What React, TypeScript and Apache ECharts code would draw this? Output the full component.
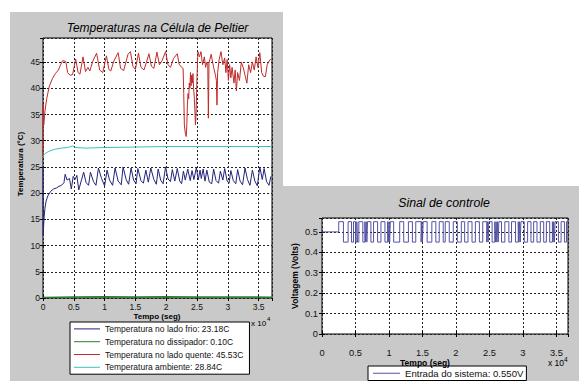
import React, { useEffect, useRef } from "react";
import * as echarts from "echarts";

// ---- Data (time in seconds, value) ----
const coldSide: [number, number][] = [
  [0, 25], [40, 12], [150, 15], [300, 17], [500, 18.5], [800, 19.5], [1200, 20.3], [1700, 20.8],
  [2200, 21], [2600, 21.3], [3000, 21.5], [3400, 22], [3600, 23.6], [3900, 22.5], [4300, 22.8],
  [4600, 20.8], [4900, 23.2], [5200, 22.6], [5500, 23.4], [5800, 20.6], [6200, 22.3], [6600, 24],
  [7000, 22], [7400, 21.5], [7700, 24], [8200, 22.2], [8600, 21.5], [9000, 24.8], [9500, 22.8],
  [10000, 21.4], [10400, 24.4], [10800, 22.5], [11300, 21.5], [11700, 24.8], [12200, 22.3],
  [12700, 21.6], [13000, 25], [13500, 22.6], [13900, 21.7], [14300, 24.8], [14700, 22.5],
  [15100, 21.8], [15400, 24.7], [15900, 22.4], [16300, 21.9], [16700, 24.4], [17100, 22.1],
  [17500, 24.8], [18000, 22.6], [18400, 21.7], [18700, 24.6], [19100, 22.5], [19500, 21.8],
  [19900, 25], [20300, 22.7], [20700, 22.2], [21000, 24.5], [21400, 22.3], [21800, 24.7],
  [22200, 22.3], [22500, 21.8], [22800, 24.2], [23100, 22.5], [23500, 24.6], [23900, 22.4],
  [24200, 24.3], [24500, 22.6], [24900, 24.9], [25200, 22.5], [25500, 24.4], [25700, 22.8],
  [26000, 24.6], [26300, 22.3], [26600, 24.4], [27000, 22.1], [27400, 21.8], [27700, 24.6],
  [28100, 22.4], [28500, 21.9], [28800, 24.2], [29200, 22.5], [29500, 24.7], [29900, 22.3],
  [30200, 21.9], [30500, 24.3], [30900, 22.4], [31300, 21.8], [31600, 24.5], [32000, 22.3],
  [32400, 21.6], [32800, 24.8], [33200, 22.6], [33600, 21.5], [34000, 24.4], [34400, 22.3],
  [34800, 21.4], [35200, 25], [35600, 22.6], [35900, 24.7], [36300, 22.2], [36700, 21.5],
  [37000, 23.2],
];

const heatSink: [number, number][] = [
  [0, 0.1], [5000, 0.2], [10000, 0.25], [15000, 0.2], [20000, 0.25], [25000, 0.2],
  [30000, 0.2], [37180, 0.15],
];

const hotSide: [number, number][] = [
  [0, 27], [40, 37], [120, 33], [300, 35.5], [600, 38], [1000, 40.3], [1500, 41.8], [2000, 42.8],
  [2500, 43.5], [2900, 44.6], [3200, 45.3], [3700, 45.1], [4000, 43], [4400, 42.5], [4800, 42.6],
  [5300, 45.6], [5700, 43], [6000, 42.7], [6500, 46], [6900, 43.2], [7300, 44], [7600, 43.3],
  [8100, 45.2], [8700, 46.7], [9200, 43.5], [9700, 43], [10300, 46.2], [10700, 43.6],
  [11000, 43.3], [11500, 45.2], [12200, 46.8], [12600, 43.8], [13100, 43.4], [13800, 46.5],
  [14200, 47], [14600, 44.2], [15000, 43.6], [15500, 46.7], [15900, 44], [16400, 43.5],
  [16800, 45], [17200, 46.6], [17600, 44.2], [18000, 43.8], [18500, 46.9], [18900, 44.5],
  [19300, 45.2], [19900, 47], [20300, 44.5], [20700, 44], [21200, 45.7], [21800, 46.6],
  [22100, 44.6], [22500, 44], [22750, 43.8], [22850, 39], [22950, 33], [23100, 31.5],
  [23250, 30.8], [23350, 33], [23450, 37], [23550, 39], [23650, 38], [23750, 41], [23850, 40],
  [23950, 43], [24050, 40.5], [24150, 42.5], [24250, 41], [24350, 42.8], [24450, 40],
  [24550, 38.5], [24650, 36], [24750, 33], [24850, 35], [25000, 42], [25150, 47], [25400, 46],
  [25650, 47], [25900, 44.5], [26200, 46], [26400, 44], [26600, 45], [26750, 44.8],
  [26850, 34.3], [26950, 44.8], [27300, 46.5], [27700, 44], [28000, 42.5], [28150, 41.5],
  [28250, 36.8], [28350, 43], [28600, 45.5], [28900, 47], [29200, 44.5], [29500, 45.8],
  [29700, 43], [29900, 45.5], [30100, 41.5], [30300, 44.5], [30500, 42], [30700, 44],
  [31000, 41], [31200, 43.5], [31400, 39.5], [31600, 43], [31900, 41.5], [32200, 45],
  [32500, 44], [32800, 42.5], [33100, 41], [33400, 44.5], [33700, 43], [34000, 45],
  [34300, 43.5], [34600, 46], [34900, 44], [35200, 46.8], [35500, 43], [35800, 42.3],
  [36100, 42.2], [36400, 44.5], [36700, 45.2], [37000, 45.6],
];

const ambient: [number, number][] = [
  [0, 27], [200, 27.4], [500, 27.7], [1000, 28], [2000, 28.4], [3000, 28.6], [4000, 28.7],
  [4800, 29], [5200, 28.7], [7000, 28.6], [10000, 28.7], [15000, 28.8], [20000, 28.9],
  [25000, 28.9], [30000, 28.9], [37180, 28.9],
];

const signalTimes: number[] = [
  0, 2500, 3200, 3900, 4400, 4700, 5000, 5200, 5300, 5500, 6100, 6400, 6500, 6600, 6700, 6800,
  7300, 7700, 8300, 8800, 9400, 9800, 9900, 10000, 10100, 10200, 10700, 11600, 12200, 12900,
  13500, 14000, 14800, 14900, 15000, 15100, 15700, 16400, 17000, 17500, 18100, 18400, 19000,
  19600, 20200, 20800, 21300, 21800, 22400, 22900, 23500, 24000, 24600, 24700, 24800, 24900,
  25400, 25800, 25900, 26000, 26100, 26200, 26300, 26400, 26800, 27300, 27900, 28300, 28900,
  29300, 29400, 29500, 29600, 29700, 30200, 30700, 31200, 31600, 32100, 32600, 33100, 33500,
  34000, 34400, 34500, 34600, 34700, 34800, 35300, 35700, 36200, 36500, 36730,
];
const signalValues: number[] = [
  0.5, 0.55, 0.45, 0.55, 0.45, 0.55, 0.45, 0.55, 0.45, 0.55, 0.45, 0.55, 0.45, 0.55, 0.45, 0.55,
  0.45, 0.55, 0.45, 0.55, 0.45, 0.55, 0.45, 0.55, 0.45, 0.55, 0.45, 0.55, 0.45, 0.55,
  0.45, 0.55, 0.45, 0.55, 0.45, 0.55, 0.45, 0.55, 0.45, 0.55, 0.45, 0.55, 0.45,
  0.55, 0.45, 0.55, 0.45, 0.55, 0.45, 0.55, 0.45, 0.55, 0.45, 0.55, 0.45, 0.55,
  0.45, 0.55, 0.45, 0.55, 0.45, 0.55, 0.45, 0.55, 0.45, 0.55, 0.45, 0.55, 0.45,
  0.55, 0.45, 0.55, 0.45, 0.55, 0.45, 0.55, 0.45, 0.55, 0.45, 0.55, 0.45, 0.55,
  0.45, 0.55, 0.45, 0.55, 0.45, 0.55, 0.45, 0.55, 0.45, 0.55, 0.55,
];

const legendTemps = [
  "Temperatura no lado frio: 23.18C",
  "Temperatura no dissipador: 0.10C",
  "Temperatura no lado quente: 45.53C",
  "Temperatura ambiente: 28.84C",
];
const legendSignal = "Entrada do sistema: 0.550V";

const FONT = "'Liberation Sans', Arial, Helvetica, sans-serif";

export default function App() {
  const ref = useRef<HTMLDivElement>(null);
  useEffect(() => {
    if (!ref.current) return;
    const chart = echarts.init(ref.current, undefined, { renderer: "svg" });

    const signalData = signalTimes.map((t, i) => [t, signalValues[i]]);

    const gridLine = { show: true, lineStyle: { color: "#222", type: [2, 2] as any, width: 1 } };
    const tick = { show: true, inside: true, length: 3, lineStyle: { color: "#000" } };
    const lbl = { color: "#111", fontSize: 8.5, fontFamily: FONT };
    const lblR = { color: "#111", fontSize: 9.3, fontFamily: FONT };

    const xFmt = (v: number) => (v % 5000 === 0 ? String(v / 10000) : "");
    const yFmtL = (v: number) => (v % 5 === 0 ? String(v) : "");
    const yFmtR = (v: number) => {
      const k = Math.round(v * 10);
      if (Math.abs(v * 10 - k) > 1e-6 || k > 5) return "";
      return k === 0 ? "0" : (k / 10).toFixed(1);
    };

    const txt = (x: number, y: number, text: string, extra: any = {}, rot = 0) => ({
      type: "text",
      x,
      y,
      rotation: rot,
      z: 10,
      style: {
        text,
        fill: "#000",
        fontFamily: FONT,
        fontSize: 8.5,
        align: "center",
        verticalAlign: "middle",
        ...extra,
      },
    });

    const option: any = {
      animation: false,
      backgroundColor: "#fff",
      graphic: [
        { type: "rect", z: -10, shape: { x: 10, y: 12, width: 273, height: 369 }, style: { fill: "#c9c9c9" } },
        { type: "rect", z: -10, shape: { x: 283, y: 186, width: 296, height: 195 }, style: { fill: "#c9c9c9" } },
        txt(157.5, 28, "Temperaturas na Célula de Peltier", { fontSize: 12, fontStyle: "italic" }),
        txt(157, 316, "Tempo (seg)", { fontSize: 8, fontWeight: "bold" }),
        txt(20, 164, "Temperatura (°C)", { fontSize: 8, fontWeight: "bold" }, Math.PI / 2),
        txt(251, 323, "x 10", { align: "left", fontSize: 8 }),
        txt(267, 319, "4", { align: "left", fontSize: 6 }),
        txt(444, 203, "Sinal de controle", { fontSize: 12.3, fontStyle: "italic" }),
        txt(425, 363, "Tempo (seg)", { fontSize: 8.5, fontWeight: "bold" }),
        txt(295, 276, "Voltagem (Volts)", { fontSize: 8.5, fontWeight: "bold" }, Math.PI / 2),
        txt(548, 363, "x 10", { align: "left", fontSize: 8.5 }),
        txt(564, 359, "4", { align: "left", fontSize: 6.5 }),
      ],
      grid: [
        { left: 43, top: 38, width: 229, height: 260, show: true, backgroundColor: "#fff", borderColor: "#000", borderWidth: 1 },
        { left: 322, top: 218, width: 246, height: 116, show: true, backgroundColor: "#fff", borderColor: "#000", borderWidth: 1 },
      ],
      xAxis: [
        {
          type: "value", gridIndex: 0, min: 0, max: 37180, interval: 5000,
          axisLine: { show: false }, axisTick: tick, splitLine: gridLine,
          axisLabel: { ...lbl, margin: 4, formatter: xFmt, showMaxLabel: false },
        },
        {
          type: "value", gridIndex: 0, position: "top", min: 0, max: 37180, interval: 5000,
          axisLine: { show: false }, axisTick: tick, splitLine: { show: false }, axisLabel: { show: false },
        },
        {
          type: "value", gridIndex: 1, min: 0, max: 36730, interval: 5000,
          axisLine: { show: false }, axisTick: tick, splitLine: gridLine,
          axisLabel: { ...lblR, margin: 14, formatter: xFmt, showMaxLabel: false },
        },
        {
          type: "value", gridIndex: 1, position: "top", min: 0, max: 36730, interval: 5000,
          axisLine: { show: false }, axisTick: tick, splitLine: { show: false }, axisLabel: { show: false },
        },
      ],
      yAxis: [
        {
          type: "value", gridIndex: 0, min: 0, max: 49.6, interval: 5,
          axisLine: { show: false }, axisTick: tick, splitLine: gridLine,
          axisLabel: { ...lbl, margin: 3, formatter: yFmtL, showMaxLabel: false },
        },
        {
          type: "value", gridIndex: 0, position: "right", min: 0, max: 49.6, interval: 5,
          axisLine: { show: false }, axisTick: tick, splitLine: { show: false }, axisLabel: { show: false },
        },
        {
          type: "value", gridIndex: 1, min: 0, max: 0.568, interval: 0.1,
          axisLine: { show: false }, axisTick: tick, splitLine: gridLine,
          axisLabel: { ...lblR, margin: 4, formatter: yFmtR, showMaxLabel: false },
        },
        {
          type: "value", gridIndex: 1, position: "right", min: 0, max: 0.568, interval: 0.1,
          axisLine: { show: false }, axisTick: tick, splitLine: { show: false }, axisLabel: { show: false },
        },
      ],
      legend: [
        {
          data: legendTemps,
          orient: "vertical",
          left: 70,
          top: 322,
          icon: "rect",
          itemWidth: 26,
          itemHeight: 1,
          itemGap: 3,
          padding: [2, 6, 2, 4],
          backgroundColor: "#fff",
          borderColor: "#000",
          borderWidth: 1,
          borderRadius: 0,
          selectedMode: false,
          textStyle: { fontSize: 8.5, fontFamily: FONT, color: "#111", lineHeight: 9.8 },
        },
        {
          data: [legendSignal],
          orient: "vertical",
          left: 368,
          top: 366,
          icon: "rect",
          itemWidth: 27,
          itemHeight: 1,
          padding: [2, 3, 2, 5],
          backgroundColor: "#fff",
          borderColor: "#000",
          borderWidth: 1,
          borderRadius: 0,
          selectedMode: false,
          textStyle: { fontSize: 9.6, fontFamily: FONT, color: "#111", lineHeight: 10.5 },
        },
      ],
      series: [
        { name: legendTemps[0], type: "line", xAxisIndex: 0, yAxisIndex: 0, data: coldSide, showSymbol: false, symbol: "none", color: "#23237a", lineStyle: { width: 1 } },
        { name: legendTemps[1], type: "line", xAxisIndex: 0, yAxisIndex: 0, data: heatSink, showSymbol: false, symbol: "none", color: "#2e7d2e", lineStyle: { width: 1.5 } },
        { name: legendTemps[2], type: "line", xAxisIndex: 0, yAxisIndex: 0, data: hotSide, showSymbol: false, symbol: "none", color: "#c02a2a", lineStyle: { width: 1 } },
        { name: legendTemps[3], type: "line", xAxisIndex: 0, yAxisIndex: 0, data: ambient, showSymbol: false, symbol: "none", color: "#3fbfbf", lineStyle: { width: 1 } },
        { name: legendSignal, type: "line", step: "end", xAxisIndex: 2, yAxisIndex: 2, data: signalData, showSymbol: false, symbol: "none", color: "#5353a3", lineStyle: { width: 1 } },
      ],
    };

    chart.setOption(option);
    return () => chart.dispose();
  }, []);

  return (
    <div
      ref={ref}
      style={{ position: "fixed", left: 0, top: 0, width: 579, height: 381 }}
    />
  );
}
